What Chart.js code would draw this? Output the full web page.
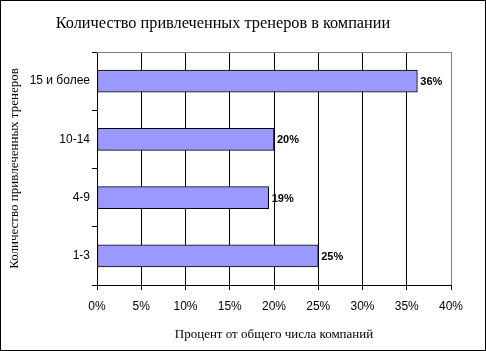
<!DOCTYPE html>
<html>
<head>
<meta charset="utf-8">
<script src="https://cdn.jsdelivr.net/npm/chart.js@4"></script>
<style>
  html, body { margin: 0; padding: 0; background: #fff; }
  #wrap { width: 486px; height: 351px; position: relative; }
</style>
</head>
<body>
<div id="wrap"><canvas id="chart"></canvas></div>
<script>
// data, top to bottom
const categories = ['15 и более', '10-14', '4-9', '1-3'];
const shares = [36.2, 20.0, 19.4, 25.0];
const shareLabels = ['36%', '20%', '19%', '25%'];
const xTicks = [0, 5, 10, 15, 20, 25, 30, 35, 40];

const chartTitle = 'Количество привлеченных тренеров в компании';
const yTitle = 'Количество привлеченных тренеров';
const xTitle = 'Процент от общего числа компаний';

const SERIF = '"Liberation Serif", "Times New Roman", serif';
const SANS = '"Liberation Sans", Arial, sans-serif';

// title, frame and value labels
const extras = {
    id: 'extras',
    afterDraw(chart) {
        const ctx = chart.ctx;
        const area = chart.chartArea;
        ctx.save();
        // gray top line of the plot area
        ctx.strokeStyle = '#808080';
        ctx.lineWidth = 1;
        ctx.beginPath();
        ctx.moveTo(area.left, Math.round(area.top) + 0.5);
        ctx.lineTo(area.right, Math.round(area.top) + 0.5);
        ctx.stroke();

        // outer frame
        ctx.strokeStyle = '#000';
        ctx.strokeRect(0.5, 0.5, chart.width - 1, chart.height - 1);

        // chart title
        ctx.fillStyle = '#000';
        ctx.font = '16.3px ' + SERIF;
        ctx.textAlign = 'center';
        ctx.textBaseline = 'middle';
        ctx.fillText(chartTitle, 223, 24);

        // value labels
        const meta = chart.getDatasetMeta(0);
        ctx.font = 'bold 11px ' + SANS;
        ctx.textAlign = 'left';
        meta.data.forEach((bar, i) => {
            ctx.fillText(shareLabels[i], bar.x + 3, bar.y + 1);
        });
        ctx.restore();
    }
};

new Chart(document.getElementById('chart'), {
    type: 'bar',
    data: {
        labels: categories,
        datasets: [{
            data: shares,
            backgroundColor: '#9999ff',
            borderColor: '#000',
            borderWidth: 1,
            borderSkipped: false,
            barThickness: 22
        }]
    },
    options: {
        indexAxis: 'y',
        responsive: true,
        maintainAspectRatio: false,
        animation: false,
        layout: { padding: { top: 52, right: 35, left: 0, bottom: 0 } },
        plugins: {
            legend: { display: false },
            title: { display: false },
            tooltip: { enabled: false }
        },
        scales: {
            x: {
                min: 0,
                max: 40,
                afterBuildTicks: (scale) => {
                    scale.ticks = xTicks.map(v => ({ value: v }));
                },
                afterFit: (scale) => { scale.height = 66; },
                border: { color: '#000' },
                grid: {
                    color: (c) => c.index === xTicks.length - 1 ? '#808080' : '#000',
                    tickColor: '#000',
                    tickLength: 5
                },
                ticks: {
                    color: '#000',
                    padding: 9,
                    font: { family: SANS, size: 12 },
                    callback: (v) => v + '%'
                },
                title: {
                    display: true,
                    text: xTitle,
                    color: '#000',
                    font: { family: SERIF, size: 13 },
                    padding: { top: 0, bottom: 9 }
                }
            },
            y: {
                afterFit: (scale) => { scale.width = 97; },
                border: { color: '#000' },
                grid: {
                    offset: true,
                    drawOnChartArea: false,
                    color: '#000',
                    tickLength: 5
                },
                ticks: {
                    color: '#000',
                    padding: 2,
                    font: { family: SANS, size: 12 }
                },
                title: {
                    display: true,
                    text: yTitle,
                    color: '#000',
                    font: { family: SERIF, size: 13 },
                    padding: { top: 7, bottom: 0 }
                }
            }
        }
    },
    plugins: [extras]
});
</script>
</body>
</html>
